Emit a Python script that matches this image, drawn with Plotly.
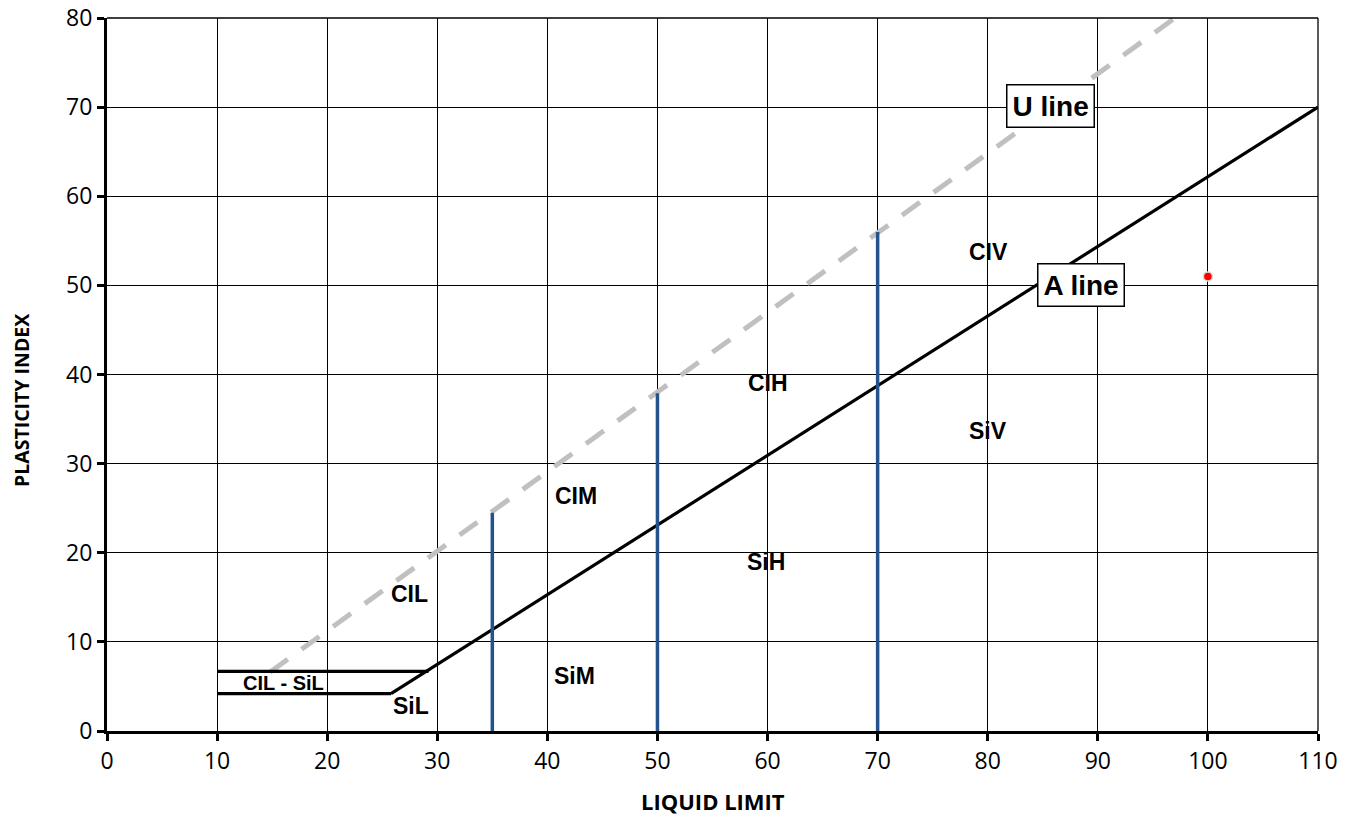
import plotly.graph_objects as go

# ---- data ----
a_line_x = [25.8, 110]
a_line_y = [4.2, 70]
u_line_x = [14.8, 97]
u_line_y = [6.6, 80]
cil_sil_upper_x = [10, 29.2]
cil_sil_upper_y = [6.7, 6.7]
cil_sil_lower_x = [10, 25.8]
cil_sil_lower_y = [4.2, 4.2]
divider_x = [35, 50, 70]
divider_top = [24.5, 37.9, 56.0]
sample_x = [100]
sample_y = [51]
zone_labels = ["CIL", "CIM", "CIH", "CIV", "SiL", "SiM", "SiH", "SiV", "CIL - SiL"]
zone_x = [27.5, 42.6, 60.0, 80.1, 27.6, 42.5, 59.9, 80.0, 16.0]
zone_y = [15.4, 26.4, 39.0, 53.7, 2.8, 6.2, 19.0, 33.7, 5.4]
box_labels = ["U line", "A line"]
box_x = [85.7, 88.5]
box_y = [70.1, 50.0]
x_ticks = list(range(0, 111, 10))
y_ticks = list(range(0, 81, 10))
x_title = "LIQUID LIMIT"
y_title = "PLASTICITY INDEX"

LABEL_FONT = "Liberation Sans, Arial, sans-serif"
AXIS_FONT = "Open Sans, Noto Sans, sans-serif"

fig = go.Figure()

fig.add_trace(go.Scatter(x=u_line_x, y=u_line_y, mode="lines",
                         line=dict(color="#C0C0C0", width=5, dash="22px,17px"),
                         hoverinfo="skip", showlegend=False))
fig.add_trace(go.Scatter(x=a_line_x, y=a_line_y, mode="lines",
                         line=dict(color="black", width=3.2),
                         hoverinfo="skip", showlegend=False))
fig.add_trace(go.Scatter(x=cil_sil_upper_x, y=cil_sil_upper_y, mode="lines",
                         line=dict(color="black", width=3.2),
                         hoverinfo="skip", showlegend=False))
fig.add_trace(go.Scatter(x=cil_sil_lower_x, y=cil_sil_lower_y, mode="lines",
                         line=dict(color="black", width=3.2),
                         hoverinfo="skip", showlegend=False))
for xv, top in zip(divider_x, divider_top):
    fig.add_trace(go.Scatter(x=[xv, xv], y=[0, top], mode="lines",
                             line=dict(color="#24528A", width=3.5),
                             hoverinfo="skip", showlegend=False))
fig.add_trace(go.Scatter(x=sample_x, y=sample_y, mode="markers",
                         marker=dict(color="red", size=9, line=dict(color="#D9D9D9", width=1.5)),
                         showlegend=False))

for t, xv, yv in zip(zone_labels, zone_x, zone_y):
    fig.add_annotation(x=xv, y=yv, text="<b>%s</b>" % t, showarrow=False,
                       font=dict(family=LABEL_FONT, size=23 if t != "CIL - SiL" else 20, color="black"))
for t, xv, yv in zip(box_labels, box_x, box_y):
    fig.add_annotation(x=xv, y=yv, text="<b>%s</b>" % t, showarrow=False,
                       font=dict(family=LABEL_FONT, size=28, color="black"),
                       bgcolor="white", bordercolor="black", borderwidth=1.5, borderpad=5)

# axis titles
fig.add_annotation(xref="paper", yref="paper", x=0.5, y=0, yshift=-70, yanchor="middle",
                   text="<b>%s</b>" % x_title, showarrow=False,
                   font=dict(family=AXIS_FONT, size=22, color="black"))
fig.add_annotation(xref="paper", yref="paper", x=0, xshift=-86, y=0.4628, xanchor="center",
                   yanchor="middle", textangle=-90,
                   text="<b>%s</b>" % y_title, showarrow=False,
                   font=dict(family=AXIS_FONT, size=19.5, color="black"))

# top and right frame lines (grid at range edges)
fig.add_shape(type="line", xref="paper", yref="paper", x0=0, x1=1, y0=1, y1=1,
              line=dict(color="black", width=1.3))
fig.add_shape(type="line", xref="paper", yref="paper", x0=1, x1=1, y0=0, y1=1,
              line=dict(color="black", width=1.3))

fig.update_layout(
    width=1349, height=818,
    margin=dict(l=107, r=31, t=18, b=87),
    paper_bgcolor="white", plot_bgcolor="white",
    font=dict(family=AXIS_FONT, color="black"),
    xaxis=dict(range=[0, 110], tickvals=x_ticks, showgrid=True, gridcolor="black", gridwidth=1.3,
               zeroline=False, showline=True, linecolor="black", linewidth=3,
               ticks="outside", ticklen=7, tickwidth=2.5, tickcolor="black", automargin=False,
               ticklabeloverflow="allow",
               tickfont=dict(size=23, family=AXIS_FONT)),
    yaxis=dict(range=[0, 80], tickvals=y_ticks, showgrid=True, gridcolor="black", gridwidth=1.3,
               zeroline=False, showline=True, linecolor="black", linewidth=3,
               ticks="outside", ticklen=7, tickwidth=2.5, tickcolor="black", automargin=False,
               ticklabeloverflow="allow",
               tickfont=dict(size=23, family=AXIS_FONT)),
)

fig.write_html("out.html", config={"displayModeBar": False},
               post_script="document.body.style.margin='0px';document.body.style.overflow='hidden';")
